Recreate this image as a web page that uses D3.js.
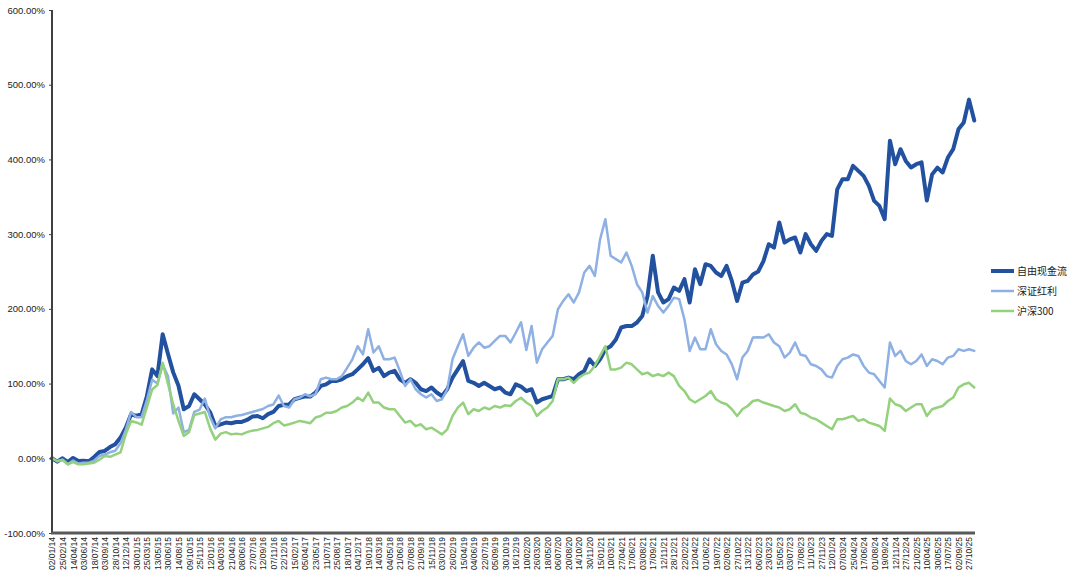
<!DOCTYPE html>
<html><head><meta charset="utf-8">
<script src="https://cdn.jsdelivr.net/npm/d3@7"></script>
<style>body{margin:0;background:#fff}</style>
</head><body>
<svg id="c" width="1080" height="580"></svg>
<script>
const tickLabels = ["02/01/14","25/02/14","14/04/14","03/06/14","18/07/14","03/09/14","28/10/14","12/12/14","30/01/15","25/03/15","13/05/15","30/06/15","14/08/15","09/10/15","25/11/15","12/01/16","04/03/16","21/04/16","08/06/16","27/07/16","12/09/16","07/11/16","22/12/16","15/02/17","05/04/17","23/05/17","11/07/17","25/08/17","18/10/17","04/12/17","19/01/18","14/03/18","04/05/18","21/06/18","07/08/18","21/09/18","15/11/18","03/01/19","26/02/19","15/04/19","04/06/19","22/07/19","05/09/19","30/10/19","16/12/19","10/02/20","26/03/20","18/05/20","06/07/20","20/08/20","14/10/20","30/11/20","15/01/21","10/03/21","27/04/21","17/06/21","03/08/21","17/09/21","12/11/21","28/12/21","22/02/22","12/04/22","01/06/22","19/07/22","02/09/22","27/10/22","13/12/22","06/02/23","23/03/23","15/05/23","03/07/23","17/08/23","11/10/23","27/11/23","12/01/24","07/03/24","25/04/24","17/06/24","01/08/24","19/09/24","12/11/24","27/12/24","21/02/25","10/04/25","30/05/25","17/07/25","02/09/25","27/10/25"];
const yTicks = [-100,0,100,200,300,400,500,600];
const seriesNames = ["自由现金流","深证红利","沪深300"];
// cumulative return (%), two samples per tick-label interval
const fcf = [0,-4.5,0,-5,0.5,-3.5,-3.4,-4,1.8,8.4,9.8,15,18.7,27.7,41,59,56.6,59,83,119,110,166,140,115,97,65.6,70,85.7,79,72,61.5,43,45.5,47.8,46.9,48.6,48.6,51.3,55.8,56.6,53.6,59,62,70,71.5,72,79,81,83,82.6,88,96.8,99,103.5,103.5,105.8,110,112.5,119,125.8,134,117,121,110,114.7,117,105.8,101,105.8,101,92.4,90,94.7,88,83.4,92.4,108,119,130,103.5,101,96.8,101,96.8,92.4,94.7,88,85.7,99,96,90,92.4,74.6,79,81.3,83.4,105.8,105.8,108,105.8,112.5,117,132.5,123.6,132.5,146,150,159,175,177,177,181.7,190.5,217,271,222,208.5,213,228.6,224,239.7,208.5,253,233,259.8,257.5,248.6,244,257.5,237.4,210.6,235,237.4,246,250,264,286.5,282,315.6,288.8,293,295.5,275.4,300,286.5,277.6,291,300,297.6,360,373.6,373.6,391.4,384.7,378,364.6,344.5,337.8,320,425,393.6,413.7,398,389.2,393.6,396,345,380,389,382.5,402.6,413.7,440.5,449.5,480,452];
const szDividend = [0,-4,-2,-8,-3,-7,-6,-6,-3,3,5,8,10,20,38,62,55,55,78,105,100,125,110,60,68,35,38,62,65,80,55,40,52,55,55,57,58,60,62,64,66,70,72,84,70,68,79,81,85.7,83,85.7,105.8,108,105.8,105.8,110,121,132.5,150,139,172.7,141.5,150,132.5,132.5,134.8,117,96.8,105.8,92.4,85.7,81.3,85.7,76.7,79,92.4,132.5,150,166,137,148,155,148,150,157,163.8,163.8,155,168,182,145,177,128,146,155,163.8,199.5,210.6,219.6,208.5,222,248.6,257.5,244,293,320,271,266.5,262,275.4,257.5,233,222,195,217,204,195,204,215,213,186,143.7,161.6,146,146,172.7,152.6,143.7,139,125.8,105.8,134.8,143.7,161.6,162,161.6,166,155,150,134.8,141.5,155,139,137,125.8,123.6,119,110,108,123.6,132.5,134.8,139,137,123.6,114.7,112.5,103.5,94.7,155,137,143.7,130.3,125.8,130.3,139,123.6,132.5,130.3,125.8,134.8,137,146,143.7,146,143.7];
const hs300 = [0,-4,-2,-8,-5,-8,-8,-7,-6,-2,3,2,5,8,32,50,48,45,68,92,98,128,100,72,50,30,35,58,60,62,40,25,33,35,32,33,32,35,37,38,40,42,47,50,44,45.5,47.8,50,48.6,47,54.5,56.6,61,61,63.3,67.9,70,74.6,81.3,76.7,88,74.6,74.6,67.9,65.6,65.6,56.6,47.8,50,43,45.5,38.8,41,36.6,32,38.8,56.6,67.9,74.6,59,65.6,63.3,67.9,65.6,70,67.9,71,70,76.7,81,74.6,70,56.6,63.3,67.9,76.7,105.8,105.8,108,101,108,112.5,114.7,123.6,137,150,119,119,121.4,128,125.8,119,112.5,114.7,110,112.5,110,114.7,110,96.8,90,79,74.6,79,83.4,90,79,74.6,72.3,65.6,56.6,65.6,70,76.7,78,74.6,72.3,70,67.9,63.3,65.6,72.3,61,59,54.5,52.2,47.8,43.3,38.8,52.2,52.2,54.5,56.6,50,52.2,47.8,45.5,43.3,36.6,80,72.3,70,63.3,67.9,72.3,72.3,56.6,65.6,67.9,70,76.7,81.3,94.7,99,101,94.7];

const seriesData = [fcf, szDividend, hs300];
const colors = ["#22519F", "#8EB0E3", "#94D17D"];
const widths = [4, 2.5, 2.5];
const samplesPerLabel = 2;

const svg = d3.select("#c");
const mLeft = 52, mRight = 969, mTop = 10, mBottom = 533;
const x = d3.scaleLinear().domain([0, tickLabels.length - 1]).range([mLeft, mRight]);
const y = d3.scaleLinear().domain([-100, 600]).range([mBottom, mTop]);

// series lines
const line = d3.line().x((d, i) => x(i / samplesPerLabel)).y(d => y(d));
seriesData.forEach((s, j) => {
  svg.append("path").datum(s)
    .attr("fill", "none")
    .attr("stroke", colors[j])
    .attr("stroke-width", widths[j])
    .attr("stroke-linejoin", "round")
    .attr("stroke-linecap", "round")
    .attr("d", line);
});

// y axis
const ya = svg.append("g").attr("transform", `translate(${mLeft},0)`)
  .call(d3.axisLeft(y).tickValues(yTicks).tickSize(3).tickPadding(4)
    .tickFormat(d => d.toFixed(2) + "%"));
ya.select(".domain").remove();
ya.selectAll(".tick line").attr("stroke", "#404040");
ya.selectAll("text").attr("fill", "#222").style("font-family", "'Liberation Sans', Arial, sans-serif").style("font-size", "9.5px");
svg.append("line").attr("x1", mLeft).attr("x2", mLeft).attr("y1", mTop).attr("y2", mBottom)
  .attr("stroke", "#404040").attr("stroke-width", 2);

// x axis
const xa = svg.append("g").attr("transform", `translate(0,${mBottom})`)
  .call(d3.axisBottom(x).tickValues(d3.range(tickLabels.length)).tickSize(0)
    .tickFormat(i => tickLabels[i]));
xa.select(".domain").remove();
xa.selectAll("text")
  .attr("transform", "rotate(-90)")
  .attr("x", -4).attr("y", 0).attr("dy", "0.35em")
  .style("text-anchor", "end")
  .attr("fill", "#222")
  .style("font-family", "'Liberation Sans', Arial, sans-serif")
  .style("font-size", "8.5px");
svg.append("line").attr("x1", mLeft - 1).attr("x2", 975).attr("y1", mBottom).attr("y2", mBottom)
  .attr("stroke", "#595959").attr("stroke-width", 3);

// legend
const lg = svg.append("g").attr("transform", "translate(991,271)");
seriesNames.forEach((n, j) => {
  const g = lg.append("g").attr("transform", `translate(0,${j * 20})`);
  g.append("line").attr("x1", 0).attr("x2", 23).attr("y1", 0).attr("y2", 0)
    .attr("stroke", colors[j]).attr("stroke-width", widths[j]);
  g.append("text").attr("x", 26).attr("y", 0).attr("dy", "0.35em")
    .attr("fill", "#222")
    .style("font-family", "'Noto Sans CJK SC', sans-serif")
    .style("font-size", "10px").text(n);
});
</script>
</body></html>
